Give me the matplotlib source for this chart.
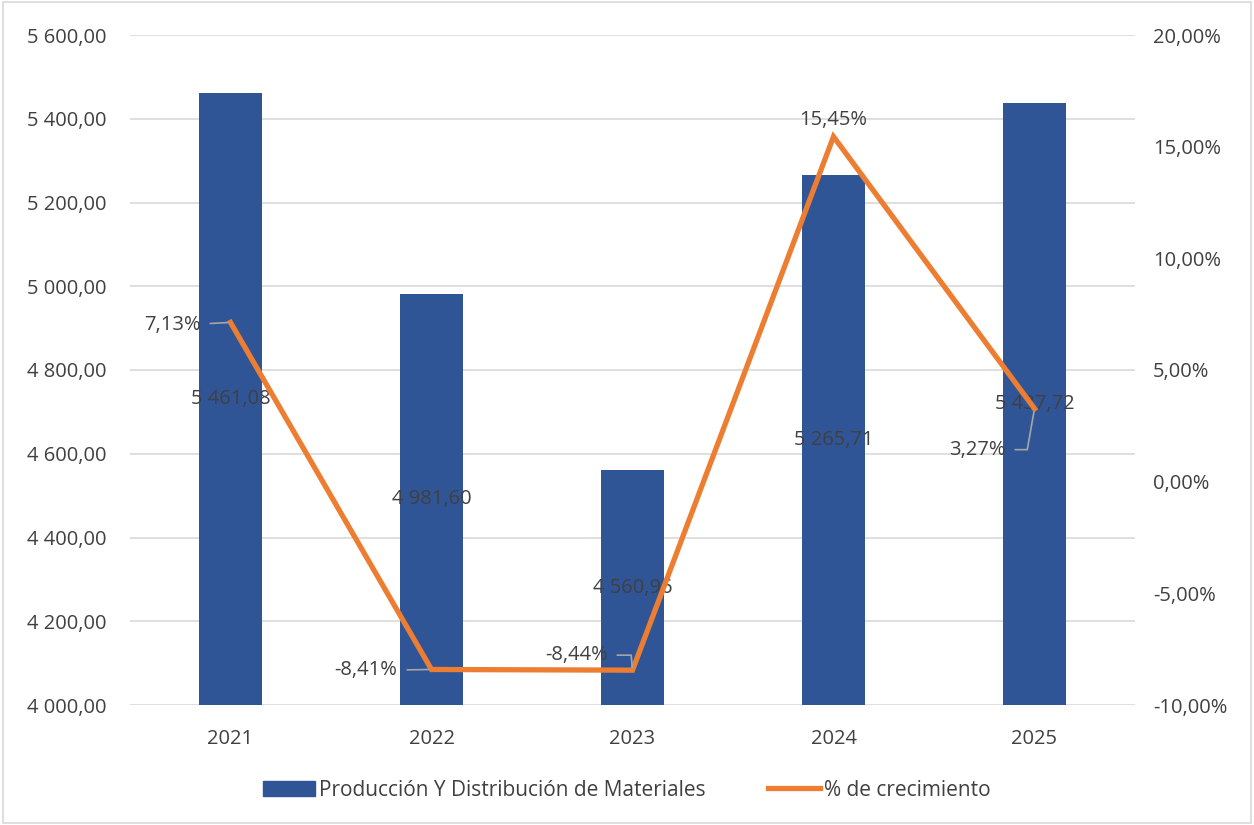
import matplotlib
matplotlib.use("Agg")
import matplotlib.pyplot as plt
from matplotlib.patches import Patch
from matplotlib.lines import Line2D
from matplotlib.ticker import FuncFormatter

years = ["2021", "2022", "2023", "2024", "2025"]
produccion = [5461.08, 4981.60, 4560.96, 5265.71, 5437.72]
crecimiento = [7.13, -8.41, -8.44, 15.45, 3.27]

# pixel offsets for the growth labels (text anchor relative to point)
label_offsets = [(-30, -3), (-34, -1), (-25, 15), (0, 17), (-29, -41)]
label_ha = ["right", "right", "right", "center", "right"]
leader_style = ["arc3", "arc3", "angle,angleA=0,angleB=95,rad=0", None,
                "angle,angleA=0,angleB=80,rad=0"]

blue = "#2F5597"
orange = "#ED7D31"
txt = "#404040"

plt.rcParams["font.family"] = ["Open Sans", "DejaVu Sans"]


def es_num(v, dec=2):
    s = f"{v:,.{dec}f}"
    return s.replace(",", " ").replace(".", ",")


fig = plt.figure(figsize=(12.54, 8.25), dpi=100)
ax = fig.add_axes([130 / 1254, 120 / 825, 1005 / 1254, 670 / 825])
ax2 = ax.twinx()

x = list(range(len(years)))
ax.bar(x, produccion, width=0.31, color=blue, zorder=2)
ax.set_ylim(4000, 5600)
ax.set_xlim(-0.5, len(years) - 0.5)
ax.set_yticks(range(4000, 5601, 200))
ax.yaxis.set_major_formatter(FuncFormatter(lambda v, p: es_num(v)))
ax.grid(axis="y", color="#d9d9d9", linewidth=1.2, zorder=0)
ax.set_xticks(x)
ax.set_xticklabels(years)
ax.tick_params(axis="y", length=0, labelsize=14.5, labelcolor=txt, pad=17)
ax.tick_params(axis="x", length=0, labelsize=14.5, labelcolor=txt, pad=17)
for s in ax.spines.values():
    s.set_visible(False)

for xi, v in zip(x, produccion):
    ax.text(xi, (4000 + v) / 2, es_num(v), ha="center", va="center",
            fontsize=14.5, color=txt, zorder=5)

ax2.plot(x, crecimiento, color=orange, linewidth=3.8, zorder=3,
         solid_joinstyle="miter")
ax2.set_ylim(-10, 20)
ax2.set_yticks(range(-10, 21, 5))
ax2.yaxis.set_major_formatter(FuncFormatter(lambda v, p: es_num(v) + "%"))
ax2.tick_params(axis="y", length=0, labelsize=14.5, labelcolor=txt, pad=13)
for s in ax2.spines.values():
    s.set_visible(False)

for xi, v, off, ha, cs in zip(x, crecimiento, label_offsets, label_ha, leader_style):
    arrow = None
    if cs is not None:
        arrow = dict(arrowstyle="-", color="#a6a6a6", lw=1.2, shrinkA=5,
                     shrinkB=2, connectionstyle=cs)
    ax2.annotate(es_num(v) + "%", (xi, v), xytext=off, textcoords="offset pixels",
                 ha=ha, va="center", fontsize=14.5, color=txt,
                 arrowprops=arrow, zorder=6)

handles = [Patch(color=blue, label="Producción Y Distribución de Materiales"),
           Line2D([0], [0], color=orange, linewidth=3.8, label="% de crecimiento")]
fig.legend(handles=handles, loc="center", bbox_to_anchor=(0.5, 35 / 825), ncol=2,
           frameon=False, fontsize=15, labelcolor=txt, handlelength=2.5,
           columnspacing=3.0, handletextpad=0.2)

border = plt.Rectangle((0.002, 0.002), 0.996, 0.996, transform=fig.transFigure,
                       fill=False, edgecolor="#d9d9d9", linewidth=1.2)
fig.patches.append(border)

fig.savefig("out.png", dpi=100)
